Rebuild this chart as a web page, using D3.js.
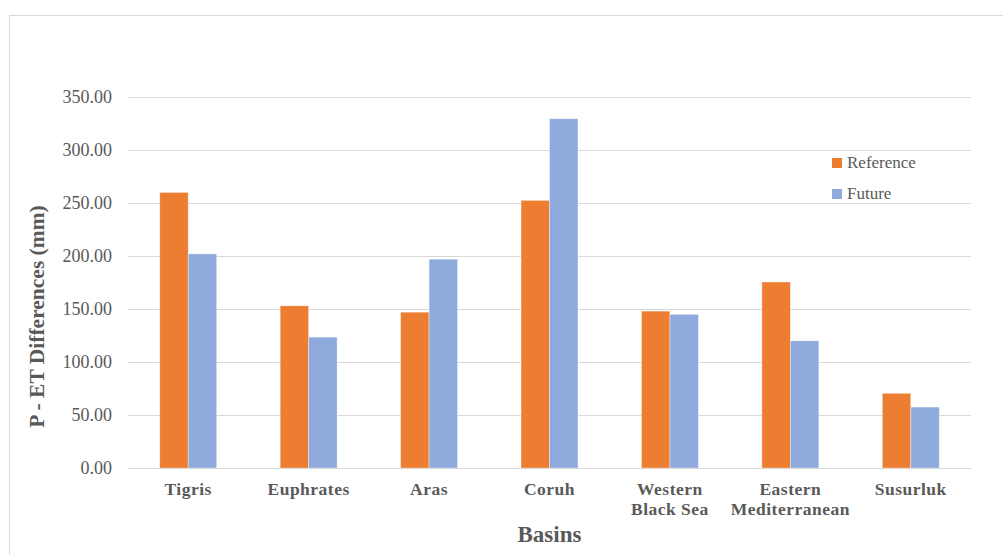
<!DOCTYPE html>
<html>
<head>
<meta charset="utf-8">
<script src="https://cdn.jsdelivr.net/npm/d3@7"></script>
<style>
  html, body { margin: 0; padding: 0; background: #fff; }
  svg { display: block; }
  svg text { font-family: "Liberation Serif", "Times New Roman", serif; }
</style>
</head>
<body>
<svg id="chart" width="1003" height="555"></svg>
<script>
const categories = ["Tigris", "Euphrates", "Aras", "Coruh", "Western Black Sea", "Eastern Mediterranean", "Susurluk"];
const categoryLines = [["Tigris"], ["Euphrates"], ["Aras"], ["Coruh"], ["Western", "Black Sea"], ["Eastern", "Mediterranean"], ["Susurluk"]];
const seriesNames = ["Reference", "Future"];
const referenceValues = [260, 153, 147, 252.5, 148, 175.5, 70.5];
const futureValues = [202, 123.5, 197, 329.5, 145, 120, 57.5];
const yTicks = [0, 50, 100, 150, 200, 250, 300, 350];
const colors = ["#ED7D31", "#8FAADC"];

const FONT = '"Liberation Serif", "Times New Roman", serif';
const svg = d3.select("#chart");
const W = 1003, H = 555;
const margin = { left: 128, right: 32, top: 97, bottom: 87 };
const plotW = W - margin.left - margin.right;
const y0 = 468, yTop = 97;

// outer chart border
svg.append("rect").attr("x", 9.5).attr("y", 15.5).attr("width", W).attr("height", H)
  .attr("fill", "none").attr("stroke", "#d9d9d9").attr("stroke-width", 1);

const x = d3.scaleBand().domain(categories).range([margin.left, margin.left + plotW]).paddingInner(0.527).paddingOuter(0.2635);
const x1 = d3.scaleBand().domain(seriesNames).range([0, x.bandwidth()]);
const y = d3.scaleLinear().domain([0, 350]).range([y0, yTop]);

// gridlines + tick labels
const yAxis = d3.axisLeft(y).tickValues(yTicks).tickSize(-plotW).tickFormat(d3.format(".2f")).tickPadding(16);
const gy = svg.append("g").attr("transform", `translate(${margin.left},0)`).call(yAxis);
gy.attr("font-family", null).attr("font-size", null);
gy.select(".domain").remove();
gy.selectAll(".tick line").attr("stroke", "#d9d9d9").attr("stroke-width", 1);
gy.selectAll(".tick text").attr("fill", "#595959").style("font-family", FONT).style("font-size", "18px");

// bars
const data = categories.map((c, i) => ({ cat: c, vals: [referenceValues[i], futureValues[i]] }));
const groups = svg.append("g").selectAll("g").data(data).join("g")
  .attr("transform", d => `translate(${x(d.cat)},0)`);
groups.selectAll("rect").data(d => d.vals.map((v, j) => ({ v, s: seriesNames[j], j })))
  .join("rect")
  .attr("x", d => x1(d.s))
  .attr("y", d => y(d.v))
  .attr("width", x1.bandwidth())
  .attr("height", d => y0 - y(d.v))
  .attr("fill", d => colors[d.j])
  .attr("stroke", "#ffffff").attr("stroke-opacity", 0.5).attr("stroke-width", 0.75);

// x axis
const xAxis = d3.axisBottom(x).tickSize(0).tickFormat("");
const gx = svg.append("g").attr("transform", `translate(0,${y0})`).call(xAxis);
gx.select(".domain").attr("stroke", "#d9d9d9");
categories.forEach((c, i) => {
  const cx = x(c) + x.bandwidth() / 2;
  const t = svg.append("text")
    .attr("x", cx)
    .attr("y", 495)
    .attr("text-anchor", "middle")
    .attr("fill", "#595959")
    .style("font-family", FONT)
    .style("font-weight", "bold")
    .style("font-size", "17.5px")
    .style("letter-spacing", "0.5px");
  categoryLines[i].forEach((line, k) => {
    t.append("tspan").attr("x", cx).attr("dy", k === 0 ? 0 : 19.5).text(line);
  });
});

// axis titles
svg.append("text")
  .attr("x", margin.left + plotW / 2)
  .attr("y", 542)
  .attr("text-anchor", "middle")
  .attr("fill", "#595959")
  .style("font-family", FONT)
  .style("font-weight", "bold")
  .style("font-size", "23px")
  .text("Basins");

svg.append("text")
  .attr("transform", "translate(44,316.5) rotate(-90)")
  .attr("text-anchor", "middle")
  .attr("fill", "#595959")
  .style("font-family", FONT)
  .style("font-weight", "bold")
  .style("font-size", "21.5px")
  .text("P - ET Differences (mm)");

// legend
const legend = svg.append("g");
seriesNames.forEach((s, i) => {
  const ly = 158 + i * 31;
  legend.append("rect").attr("x", 832).attr("y", ly).attr("width", 10).attr("height", 10).attr("fill", colors[i]);
  legend.append("text").attr("x", 847).attr("y", ly + 9.5)
    .attr("fill", "#595959")
    .style("font-family", FONT)
    .style("font-size", "17px")
    .text(s);
});
</script>
</body>
</html>
